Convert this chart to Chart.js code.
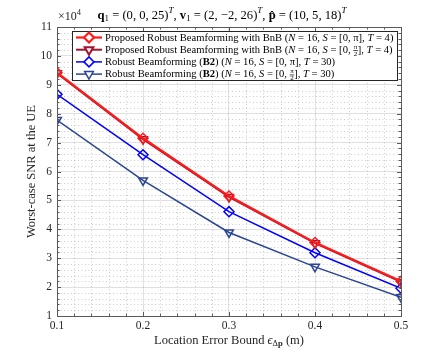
<!DOCTYPE html>
<html><head><meta charset="utf-8">
<script src="https://cdn.jsdelivr.net/npm/chart.js@4.4.0/dist/chart.umd.min.js"></script>
<style>html,body{margin:0;padding:0;background:#fff}#wrap{width:443px;height:356px}</style>
</head><body><div id="wrap"><canvas id="c" width="443" height="356"></canvas></div>
<script>
// ---- data ----
const errorBounds = [0.1, 0.2, 0.3, 0.4, 0.5];
const bnbFullRange = [94200, 71500, 51500, 35400, 22000];
const bnbHalfRange = [94000, 71200, 51200, 35200, 21800];
const b2FullRange  = [86700, 65800, 46100, 31900, 19600];
const b2HalfRange  = [77800, 56900, 38900, 27000, 16500];
const xTickValues = [0.1, 0.2, 0.3, 0.4, 0.5];
const yTickValues = [10000, 20000, 30000, 40000, 50000, 60000, 70000, 80000, 90000, 100000, 110000];
const seriesNames = [
  'Proposed Robust Beamforming with BnB (N = 16, S = [0, π], T = 4)',
  'Proposed Robust Beamforming with BnB (N = 16, S = [0, π/2], T = 4)',
  'Robust Beamforming (B2) (N = 16, S = [0, π], T = 30)',
  'Robust Beamforming (B2) (N = 16, S = [0, π/2], T = 30)'
];

const SERIF = "'Liberation Serif', 'DejaVu Serif', serif";
const TXT = '#262626';
const colors = ['#ff1a1a', '#a2142f', '#0000ff', '#2a4595'];
const styles = [
  {pointStyle: 'rectRot', rotation: 0, radius: 5},
  {pointStyle: 'triangle', rotation: 180, radius: 5},
  {pointStyle: 'rectRot', rotation: 0, radius: 5},
  {pointStyle: 'triangle', rotation: 180, radius: 5}
];
const widths = [2.2, 2, 1.5, 1.5];
const seriesData = [bnbFullRange, bnbHalfRange, b2FullRange, b2HalfRange];

function f(size, style, weight) {
  return (style || 'normal') + ' ' + (weight || 'normal') + ' ' + size + 'px ' + SERIF;
}

// rich text: segments {t, font, dy, frac:[num,den]}
function segWidth(ctx, s) {
  ctx.font = s.font;
  if (s.frac) return Math.max(ctx.measureText(s.frac[0]).width, ctx.measureText(s.frac[1]).width) + 1;
  return ctx.measureText(s.t).width;
}
function drawRich(ctx, segs, x, y, align) {
  let total = 0;
  segs.forEach(s => total += segWidth(ctx, s));
  let cx = align === 'center' ? x - total / 2 : x;
  ctx.textBaseline = 'middle';
  ctx.textAlign = 'left';
  segs.forEach(s => {
    const w = segWidth(ctx, s);
    ctx.font = s.font;
    if (s.frac) {
      ctx.textAlign = 'center';
      ctx.fillText(s.frac[0], cx + w / 2, y - 3.5);
      ctx.fillText(s.frac[1], cx + w / 2, y + 4);
      ctx.fillRect(cx, y, w, 0.7);
      ctx.textAlign = 'left';
    } else {
      ctx.fillText(s.t, cx, y + (s.dy || 0));
    }
    cx += w;
  });
}

const LF = 10.6;
function legendSegs(i) {
  const n = f(LF), it = f(LF, 'italic'), b = f(LF, 'normal', 'bold');
  const pre = i < 2 ? [{t: 'Proposed Robust Beamforming with BnB (', font: n}]
    : [{t: 'Robust Beamforming (', font: n}, {t: 'B2', font: b}, {t: ') (', font: n}];
  const range = (i % 2 === 0) ? [{t: ' = [0, π], ', font: n}]
    : [{t: ' = [0, ', font: n}, {frac: ['π', '2'], font: f(7)}, {t: '], ', font: n}];
  const tval = i < 2 ? '4' : '30';
  return pre.concat([{t: 'N', font: it}, {t: ' = 16, ', font: n}, {t: 'S', font: it}],
    range, [{t: 'T', font: it}, {t: ' = ' + tval + ')', font: n}]);
}

const decorPlugin = {
  id: 'decor',
  beforeDatasetsDraw(chart) {
    const {ctx, chartArea: a, scales: {x, y}} = chart;
    ctx.save();
    ctx.strokeStyle = 'rgba(0,0,0,0.2)';
    ctx.lineWidth = 1;
    ctx.setLineDash([1, 2.5]);
    for (let k = 0; k <= 20; k++) {
      const v = 0.1 + k * 0.02;
      if (k % 5 === 0) continue;
      const px = Math.round(x.getPixelForValue(v)) + 0.5;
      ctx.beginPath(); ctx.moveTo(px, a.top); ctx.lineTo(px, a.bottom); ctx.stroke();
    }
    for (let k = 0; k <= 50; k++) {
      if (k % 5 === 0) continue;
      const v = 10000 + k * 2000;
      const py = Math.round(y.getPixelForValue(v)) + 0.5;
      ctx.beginPath(); ctx.moveTo(a.left, py); ctx.lineTo(a.right, py); ctx.stroke();
    }
    ctx.restore();
  },
  afterDraw(chart) {
    const {ctx, chartArea: a, scales: {x, y}} = chart;
    ctx.save();
    // box
    ctx.strokeStyle = '#5a5a5a';
    ctx.lineWidth = 1;
    ctx.strokeRect(Math.round(a.left) + 0.5, Math.round(a.top) + 0.5, Math.round(a.right - a.left), Math.round(a.bottom - a.top));
    // ticks
    ctx.beginPath();
    for (let k = 0; k <= 20; k++) {
      const px = Math.round(x.getPixelForValue(0.1 + k * 0.02)) + 0.5;
      const len = k % 5 === 0 ? 4 : 2.5;
      ctx.moveTo(px, a.bottom); ctx.lineTo(px, a.bottom - len);
      ctx.moveTo(px, a.top); ctx.lineTo(px, a.top + len);
    }
    for (let k = 0; k <= 50; k++) {
      const py = Math.round(y.getPixelForValue(10000 + k * 2000)) + 0.5;
      const len = k % 5 === 0 ? 4 : 2.5;
      ctx.moveTo(a.left, py); ctx.lineTo(a.left + len, py);
      ctx.moveTo(a.right, py); ctx.lineTo(a.right - len, py);
    }
    ctx.stroke();

    // legend
    const lx = 72.5, ly = 31.5, lw = 325, lh = 49;
    ctx.fillStyle = '#fff';
    ctx.fillRect(lx, ly, lw, lh);
    ctx.strokeStyle = '#262626';
    ctx.lineWidth = 1;
    ctx.strokeRect(lx, ly, lw, lh);
    for (let i = 0; i < 4; i++) {
      const ry = 37.5 + i * 12.2;
      ctx.strokeStyle = colors[i];
      ctx.lineWidth = widths[i];
      ctx.beginPath(); ctx.moveTo(76, ry); ctx.lineTo(102, ry); ctx.stroke();
      ctx.fillStyle = '#fff';
      Chart.helpers.drawPoint(ctx, {pointStyle: styles[i].pointStyle, rotation: styles[i].rotation,
        radius: styles[i].radius, borderWidth: 1.5}, 89, ry);
      ctx.fillStyle = '#000';
      drawRich(ctx, legendSegs(i), 105, ry + 0.5, 'left');
    }

    // title
    ctx.fillStyle = '#000';
    const T = 12.6, n = f(T), bo = f(T, 'normal', 'bold'), sm = f(9);
    drawRich(ctx, [
      {t: 'q', font: bo}, {t: '1', font: sm, dy: 3}, {t: ' = (0, 0, 25)', font: n}, {t: 'T', font: f(9, 'italic'), dy: -5},
      {t: ', ', font: n},
      {t: 'v', font: bo}, {t: '1', font: sm, dy: 3}, {t: ' = (2, −2, 26)', font: n}, {t: 'T', font: f(9, 'italic'), dy: -5},
      {t: ', ', font: n},
      {t: 'p̂', font: bo}, {t: ' = (10, 5, 18)', font: n}, {t: 'T', font: f(9, 'italic'), dy: -5}
    ], 222, 16, 'center');

    // exponent
    ctx.fillStyle = TXT;
    drawRich(ctx, [{t: '×10', font: f(12)}, {t: '4', font: f(8.5), dy: -4}], 58, 17, 'left');

    // x title
    ctx.fillStyle = TXT;
    drawRich(ctx, [
      {t: 'Location Error Bound ', font: f(12.5)},
      {t: 'ϵ', font: f(12.5, 'italic')},
      {t: 'Δ', font: f(8.5), dy: 3},
      {t: 'p', font: f(8.5, 'normal', 'bold'), dy: 3},
      {t: ' (m)', font: f(12.5)}
    ], 229, 341, 'center');
    ctx.restore();
  }
};

const datasets = seriesData.map((d, i) => ({
  label: seriesNames[i],
  data: errorBounds.map((xv, k) => ({x: xv, y: d[k]})),
  borderColor: colors[i],
  backgroundColor: 'rgba(255,255,255,0)',
  borderWidth: widths[i],
  pointStyle: styles[i].pointStyle,
  pointRotation: styles[i].rotation,
  pointRadius: styles[i].radius,
  pointBorderWidth: 1.5,
  pointBackgroundColor: 'rgba(255,255,255,0)',
  pointBorderColor: colors[i],
  tension: 0,
  order: [1, 2, 3, 4][i]
}));

new Chart(document.getElementById('c'), {
  type: 'line',
  data: {datasets},
  plugins: [decorPlugin],
  options: {
    responsive: false,
    animation: false,
    devicePixelRatio: 1,
    layout: {padding: {left: 0, right: 42, top: 27, bottom: 0}},
    plugins: {legend: {display: false}, tooltip: {enabled: false}, title: {display: false}},
    scales: {
      x: {
        type: 'linear', min: 0.1, max: 0.5,
        afterBuildTicks: s => { s.ticks = xTickValues.map(v => ({value: v})); },
        afterFit: s => { s.height = 40; },
        ticks: {color: TXT, font: {family: SERIF, size: 11.5}, padding: 3, maxRotation: 0,
          callback: v => String(Math.round(v * 10) / 10)},
        grid: {color: 'rgba(0,0,0,0.12)', drawTicks: false, lineWidth: 1},
        border: {display: false}
      },
      y: {
        type: 'linear', min: 10000, max: 110000,
        afterBuildTicks: s => { s.ticks = yTickValues.map(v => ({value: v})); },
        afterFit: s => { s.width = 57; },
        ticks: {color: TXT, font: {family: SERIF, size: 11.5}, padding: 5,
          callback: v => String(Math.round(v / 10000))},
        grid: {color: 'rgba(0,0,0,0.12)', drawTicks: false, lineWidth: 1},
        border: {display: false},
        title: {display: true, text: 'Worst-case SNR at the UE', color: TXT,
          font: {family: SERIF, size: 12.5}, padding: {top: 24, bottom: 0}}
      }
    }
  }
});
</script>
</body></html>
